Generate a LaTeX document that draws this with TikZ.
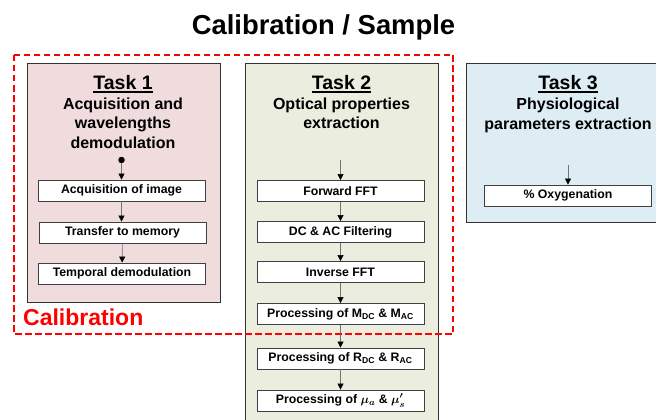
\documentclass[tikz,border=0pt]{standalone}
\usepackage{fontspec}
\setmainfont{Liberation Sans}
\usetikzlibrary{arrows.meta}
\definecolor{pinkbg}{HTML}{F0DCDC}
\definecolor{olivebg}{HTML}{EBEEDE}
\definecolor{bluebg}{HTML}{DDEDF3}
\definecolor{calred}{HTML}{FF0000}
\tikzset{
  taskbox/.style={draw=black!80, line width=0.9pt},
  stepbox/.style={draw=black!75, line width=0.8pt, fill=white, minimum width=167pt, minimum height=21pt, inner sep=0pt, font=\bfseries\fontsize{12.3}{14}\selectfont},
  flow/.style={draw=black!55, line width=0.6pt, -{Triangle[length=6pt,width=6pt,color=black]}},
  tasktitle/.style={anchor=base, inner sep=0pt, font=\bfseries\fontsize{19.5}{22}\selectfont},
  tasksub/.style={anchor=base, inner sep=0pt, font=\bfseries\fontsize{16}{19}\selectfont},
  uline/.style={line width=1.6pt, draw=black},
}
\begin{document}
\begin{tikzpicture}[x=1pt,y=-1pt]
\clip (0,0) rectangle (656,420);
\fill[white] (0,0) rectangle (656,420);
% title
\node[anchor=base, inner sep=0pt, font=\bfseries\fontsize{27.4}{30}\selectfont] (title) at (323.5,35) {Calibration / Sample};
% task boxes
\draw[taskbox, fill=pinkbg] (27,63) rectangle (220,302);
\draw[taskbox, fill=olivebg] (245,63) rectangle (438,430);
\draw[taskbox, fill=bluebg] (466,63) rectangle (670,222);
% task 1
\node[tasktitle] (t1) at (123,89) {Task 1};
\draw[uline] ([yshift=-3pt]t1.base west) -- ([yshift=-3pt]t1.base east);
\node[tasksub] (t1a) at (123,109) {Acquisition and};
\node[tasksub] (t1b) at (123,128.5) {wavelengths};
\node[tasksub] (t1c) at (123,148) {demodulation};
\node[circle, fill=black, inner sep=0pt, minimum size=6.5pt] (dot) at (121.5,160) {};
\node[stepbox] (a1) at (121.5,190.5) {Acquisition of image};
\node[stepbox] (a2) at (122.5,232.5) {Transfer to memory};
\node[stepbox] (a3) at (122,273.5) {Temporal demodulation};
\draw[flow] (dot) -- (a1);
\draw[flow] (a1) -- (a2.north -| a1);
\draw[flow] (a2) -- (a3);
% task 2
\node[tasktitle] (t2) at (341.5,89) {Task 2};
\draw[uline] ([yshift=-3pt]t2.base west) -- ([yshift=-3pt]t2.base east);
\node[tasksub] (t2a) at (341.5,109) {Optical properties};
\node[tasksub] (t2b) at (341.5,128.5) {extraction};
\coordinate (s2) at (340.5,160);
\node[stepbox] (b1) at (340.5,191) {Forward FFT};
\node[stepbox] (b2) at (340.5,232) {DC \& AC Filtering};
\node[stepbox] (b3) at (340.5,272) {Inverse FFT};
\node[stepbox] (b4) at (340.5,314) {Processing of M\textsubscript{DC} \& M\textsubscript{AC}};
\node[stepbox] (b5) at (340.5,358.5) {Processing of R\textsubscript{DC} \& R\textsubscript{AC}};
\node[stepbox] (b6) at (340.5,400.5) {Processing of {\boldmath$\mu_a$} \& {\boldmath$\mu'_s$}};
\draw[flow] (s2) -- (b1);
\draw[flow] (b1) -- (b2);
\draw[flow] (b2) -- (b3);
\draw[flow] (b3) -- (b4);
\draw[flow] (b4) -- (b5);
\draw[flow] (b5) -- (b6);
% task 3
\node[tasktitle] (t3) at (568,89) {Task 3};
\draw[uline] ([yshift=-3pt]t3.base west) -- ([yshift=-3pt]t3.base east);
\node[tasksub] (t3a) at (568,110) {Physiological};
\node[tasksub] (t3b) at (568,129) {parameters extraction};
\coordinate (s3) at (568,165);
\node[stepbox] (c1) at (568,195.5) {\% Oxygenation};
\draw[flow] (s3) -- (c1);
% calibration frame
\draw[calred, line width=1.8pt, dash pattern=on 6.5pt off 3.5pt] (14,55) rectangle (453,334);
\node[anchor=base west, inner sep=0pt, text=calred, font=\bfseries\fontsize{23}{26}\selectfont] (cal) at (23,325) {Calibration};
\end{tikzpicture}
\end{document}
